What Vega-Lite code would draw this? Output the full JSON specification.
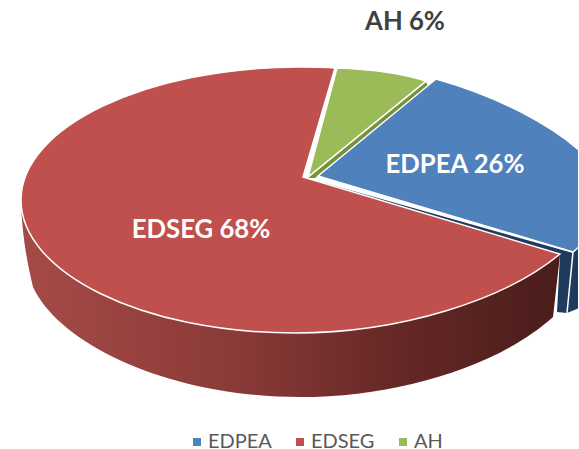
{"$schema":"https://vega.github.io/schema/vega-lite/v6.json","width":578,"height":448,"padding":0,"autosize":{"type":"none"},"background":"white","view":{"stroke":null},"datasets":{"slices":[{"category":"EDPEA","share":26,"label":"EDPEA 26%"},{"category":"EDSEG","share":68,"label":"EDSEG 68%"},{"category":"AH","share":6,"label":"AH 6%"}]},"data":{"name":"slices"},"layer":[{"transform":[{"filter":"datum.category==='EDPEA'"}],"mark":{"type":"point","filled":true,"opacity":1,"size":4,"fill":"#1f3a5c","shape":"M25,-44 L284,29 L290,23 L290,84 L278,89 L268,88 L271,31 Z"}},{"transform":[{"filter":"datum.category==='EDPEA'"}],"mark":{"type":"point","filled":false,"opacity":1,"size":4,"stroke":"white","strokeWidth":1.5,"shape":"M284,28 L278,89"}},{"transform":[{"filter":"datum.category==='EDSEG'"}],"mark":{"type":"point","filled":true,"opacity":1,"size":4,"fill":{"gradient":"linear","x1":0,"x2":1,"y1":0,"y2":0,"stops":[{"offset":0,"color":"#a54b47"},{"offset":0.4,"color":"#8a3a38"},{"offset":0.7,"color":"#652826"},{"offset":1,"color":"#4a1d1b"}]},"shape":"M-268,-24 C-267,11 -262,38 -256,63 C-229,121 -119,173 11,173 C111,173 211,141 264,93 L271,31 L11,26 Z"}},{"transform":[{"filter":"datum.category==='AH'"}],"mark":{"type":"point","filled":true,"opacity":1,"size":4,"fill":"#76923c","shape":"M137,-142 L139,-138 L26,-46 L19,-46 Z"}},{"mark":{"type":"point","filled":true,"opacity":1,"size":4,"stroke":"white","strokeWidth":1.5},"encoding":{"color":{"field":"category","type":"nominal","scale":{"domain":["EDPEA","EDSEG","AH"],"range":["#4f81bd","#c0504d","#9bbb59"]},"legend":{"title":null,"orient":"none","legendX":187,"legendY":432,"direction":"horizontal","columns":3,"symbolType":"square","symbolSize":64,"symbolStrokeWidth":0,"labelFont":"Lato","labelFontSize":20,"labelColor":"#595959","columnPadding":18,"labelOffset":1,"labelLimit":200}},"shape":{"field":"label","type":"nominal","legend":null,"scale":{"domain":["EDPEA 26%","EDSEG 68%","AH 6%"],"range":["M29,-48 L147,-145 C211,-127 261,-99 290,-74 L290,23 L284,28 Z","M14,-47 L46,-156 C34,-157 23,-157 11,-157 C-143,-157 -268,-97 -268,-24 C-268,48 -148,109 6,109 C111,109 216,76 271,30 Z","M19,-47 L48,-156 C81,-155 111,-151 137,-143 Z"]}}}},{"mark":{"type":"text","font":"Lato","fontWeight":"bold","fontSize":25.7,"align":"center","baseline":"middle"},"encoding":{"text":{"field":"label"},"x":{"field":"share","type":"quantitative","axis":null,"scale":{"domain":[6,26,68],"range":[405,455,201]}},"y":{"field":"share","type":"quantitative","axis":null,"scale":{"domain":[6,26,68],"range":[22,165,230]}},"color":{"condition":{"test":"datum.category==='AH'","value":"#404040"},"value":"white"}}}]}
